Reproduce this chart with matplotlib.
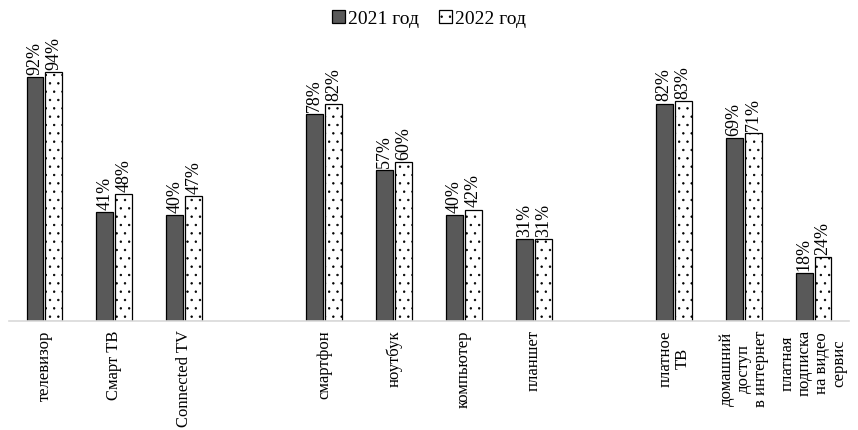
import numpy as np
import matplotlib.pyplot as plt

plt.rcParams['font.family'] = ['Liberation Serif', 'DejaVu Serif']
plt.rcParams['hatch.linewidth'] = 0.5
plt.rcParams['hatch.color'] = '#444444'

categories = ['телевизор', 'Смарт ТВ', 'Connected TV', '',
              'смартфон', 'ноутбук', 'компьютер', 'планшет', '',
              'платное\nТВ', 'домашний\nдоступ\nв интернет',
              'платная\nподписка\nна видео\nсервис']
share_2021 = [92, 41, 40, None, 78, 57, 40, 31, None, 82, 69, 18]
share_2022 = [94, 48, 47, None, 82, 60, 42, 31, None, 83, 71, 24]

fig, ax = plt.subplots(figsize=(8.58, 4.31), dpi=100)
fig.subplots_adjust(left=0.011, right=0.989, bottom=0.253, top=0.905)

x = np.arange(len(categories))
w = 0.24
off = 0.135
idx = [i for i, v in enumerate(share_2021) if v is not None]
v21 = [share_2021[i] for i in idx]
v22 = [share_2022[i] for i in idx]
xi = x[idx]

ax.bar(xi - off, v21, w, color='#595959', edgecolor='black', lw=0.9,
       label='2021 год')
ax.bar(xi + off, v22, w, color='white', edgecolor='black', lw=0.9,
       hatch='..', label='2022 год')

for xs, vals in ((xi - off, v21), (xi + off, v22)):
    for xx, v in zip(xs, vals):
        ax.text(xx, v + 1.2, f'{v}%', rotation=90, ha='center', va='bottom',
                fontsize=13)

ax.set_xlim(-0.5, 11.5)
ax.set_ylim(0, 106)
ax.set_yticks([])
ax.set_xticks(x)
ax.set_xticklabels(categories, rotation=90, fontsize=12, ha='center',
                   va='top', multialignment='center', linespacing=1.1)
ax.tick_params(axis='x', length=0, pad=6)
for s in ('top', 'right', 'left'):
    ax.spines[s].set_visible(False)
ax.spines['bottom'].set_color('#d9d9d9')
ax.spines['bottom'].set_linewidth(1.2)

ax.legend(loc='upper center', bbox_to_anchor=(0.5, 1.17), ncol=2,
          frameon=False, fontsize=14, handlelength=0.7, handleheight=0.7,
          handletextpad=0.15, columnspacing=1.0)

fig.savefig('out.png', dpi=100)
